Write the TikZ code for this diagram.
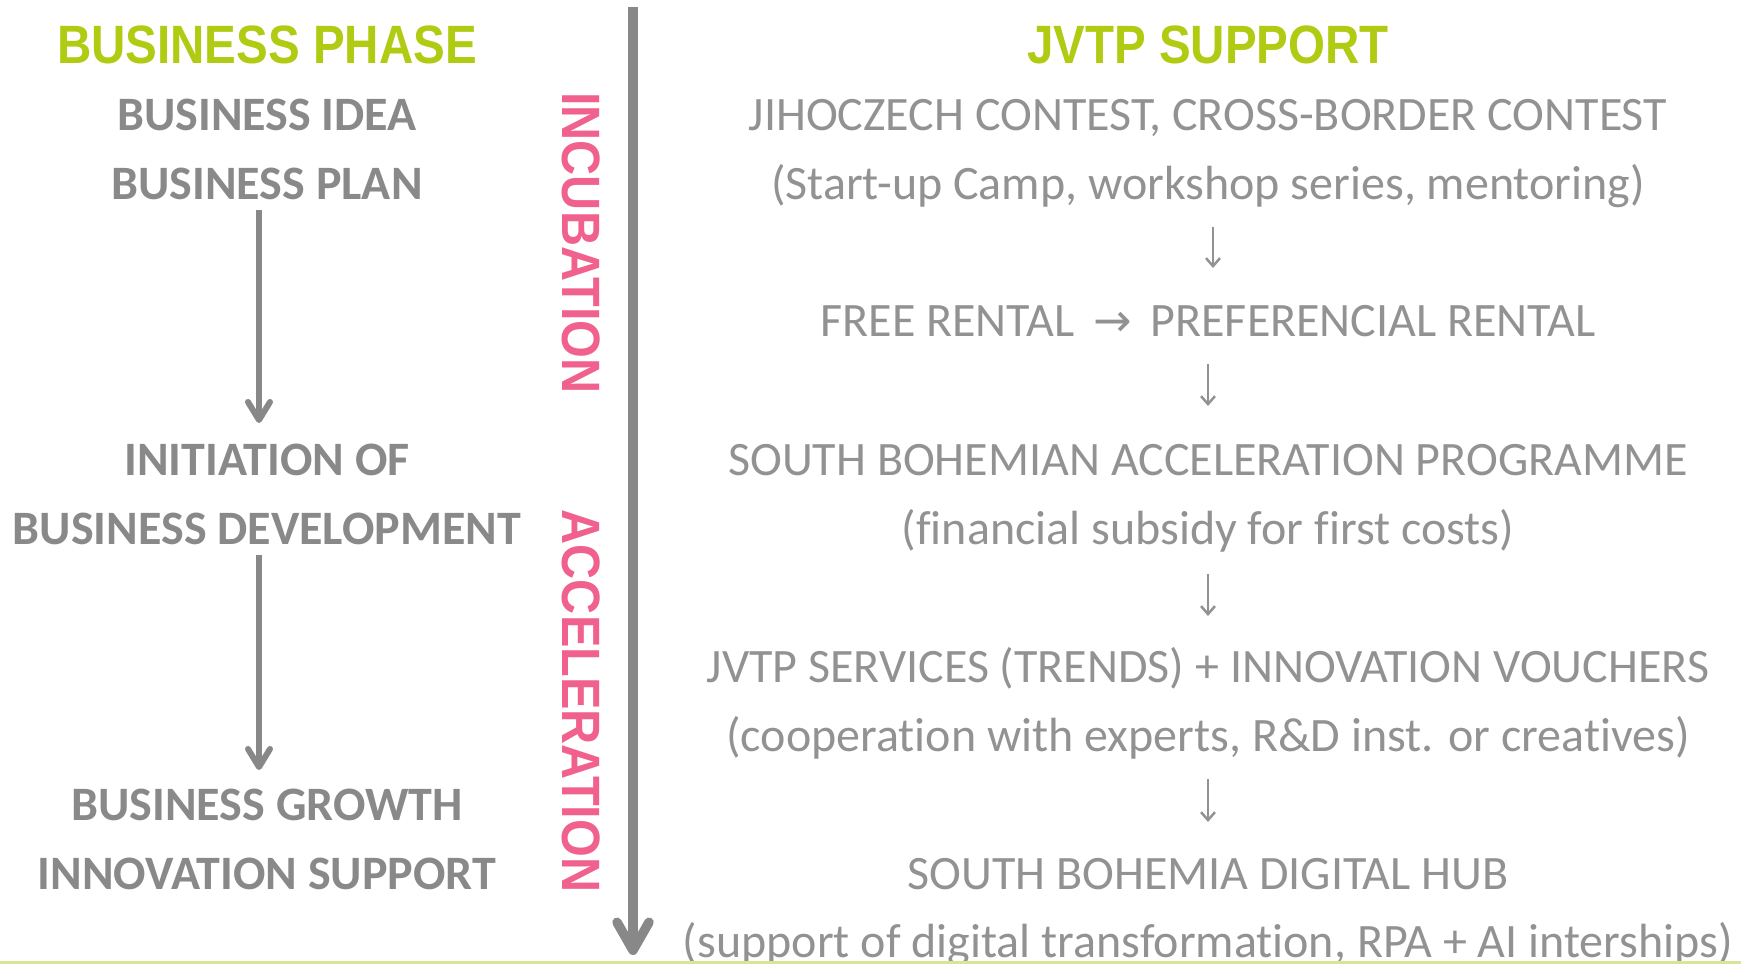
\documentclass[tikz,border=0pt]{standalone}
\usepackage{fontspec}
\setmainfont{Carlito}[Ligatures=NoCommon]
\newfontfamily\headfont[FakeStretch=0.88]{Liberation Sans}
\newfontfamily\stagefont[FakeStretch=0.9]{Liberation Sans}
\newfontfamily\arrowfont{DejaVu Sans}
\usetikzlibrary{arrows.meta}

\definecolor{phasegreen}{RGB}{176,203,18}
\definecolor{stagepink}{RGB}{240,98,141}
\definecolor{phasegray}{RGB}{137,137,137}
\definecolor{supportgray}{RGB}{146,146,146}
\definecolor{timegray}{RGB}{136,136,136}
\definecolor{edgegreen}{RGB}{214,230,150}

\tikzset{
    head/.style={font=\headfont\bfseries\fontsize{54}{54}\selectfont,
        text=phasegreen, anchor=base, inner sep=0pt},
    phase/.style={font=\bfseries\fontsize{48}{48}\selectfont,
        text=phasegray, anchor=base, inner sep=0pt},
    support/.style={font=\fontsize{48}{48}\selectfont,
        text=supportgray, anchor=base, inner sep=0pt},
    stage/.style={font=\stagefont\bfseries\fontsize{54}{54}\selectfont,
        text=stagepink, rotate=-90, inner sep=0pt},
}

\begin{document}
\begin{tikzpicture}[x=1pt, y=1pt]
    \useasboundingbox (0,0) rectangle (1741,-964);

    %Headings
    \node[head] (PhaseHead) at (267,-63) {BUSINESS PHASE};
    \node[head] (SupportHead) at (1208,-63) {JVTP SUPPORT};

    %Business phase
    \node[phase] (BizIdea) at (267,-130) {BUSINESS IDEA};
    \node[phase] (BizPlan) at (267,-199) {BUSINESS PLAN};
    \node[phase] (InitOf) at (267,-475) {INITIATION OF};
    \node[phase] (BizDev) at (267,-544) {BUSINESS DEVELOPMENT};
    \node[phase] (BizGrowth) at (267,-820) {BUSINESS GROWTH};
    \node[phase] (InnoSupport) at (267,-889) {INNOVATION SUPPORT};

    %Stages
    \node[stage] (StageIncub) at (581,-243) {INCUBATION};
    \node[stage] (StageAccel) at (581,-701) {ACCELERATION};

    %JVTP support
    \node[support] (Contest) at (1208,-130) {JIHOCZECH CONTEST, CROSS-BORDER CONTEST};
    \node[support] (ContestNote) at (1208,-199) {(Start-up Camp, workshop series, mentoring)};
    \node[support] (Rental) at (1208,-336) {FREE RENTAL\, {\arrowfont\fontsize{46}{46}\selectfont →}\, PREFERENCIAL RENTAL};
    \node[support] (AccelProg) at (1208,-475) {SOUTH BOHEMIAN ACCELERATION PROGRAMME};
    \node[support] (AccelNote) at (1208,-544) {(financial subsidy for first costs)};
    \node[support] (Services) at (1208,-682) {JVTP SERVICES (TRENDS) + INNOVATION VOUCHERS};
    \node[support] (ServicesNote) at (1208,-751) {(cooperation with experts, R\&D inst. or creatives)};
    \node[support] (DigiHub) at (1208,-889) {SOUTH BOHEMIA DIGITAL HUB};
    \node[support] (DigiHubNote) at (1208,-957) {(support of digital transformation, RPA + AI interships)};

    \coordinate (TimeBegin) at (633,-7);
    \coordinate (TimeEnd) at (633,-955);

    \coordinate (PhaseOneBegin) at (259,-210);
    \coordinate (PhaseOneEnd) at (259,-423);
    \coordinate (PhaseTwoBegin) at (259,-555);
    \coordinate (PhaseTwoEnd) at (259,-770);

    \coordinate (StepOneBegin) at (1213,-227);
    \coordinate (StepOneEnd) at (1213,-268);
    \coordinate (StepTwoBegin) at (1208,-364);
    \coordinate (StepTwoEnd) at (1208,-406);
    \coordinate (StepThreeBegin) at (1208,-574);
    \coordinate (StepThreeEnd) at (1208,-616);
    \coordinate (StepFourBegin) at (1208,-779);
    \coordinate (StepFourEnd) at (1208,-822);

    %Lines
    \fill[edgegreen] (0,-961) rectangle (1741,-964);

    \draw[-{Straight Barb[round, length=28pt, width=32pt]}, line width=9.5pt, timegray]
        (TimeBegin) -- (TimeEnd);

    \draw[-{Straight Barb[round, length=18pt, width=22pt]}, line width=6pt, timegray]
        (PhaseOneBegin) -- (PhaseOneEnd);
    \draw[-{Straight Barb[round, length=18pt, width=22pt]}, line width=6pt, timegray]
        (PhaseTwoBegin) -- (PhaseTwoEnd);

    \draw[-{Straight Barb[length=8pt, width=14pt]}, line width=2.5pt, supportgray]
        (StepOneBegin) -- (StepOneEnd);
    \draw[-{Straight Barb[length=8pt, width=14pt]}, line width=2.5pt, supportgray]
        (StepTwoBegin) -- (StepTwoEnd);
    \draw[-{Straight Barb[length=8pt, width=14pt]}, line width=2.5pt, supportgray]
        (StepThreeBegin) -- (StepThreeEnd);
    \draw[-{Straight Barb[length=8pt, width=14pt]}, line width=2.5pt, supportgray]
        (StepFourBegin) -- (StepFourEnd);
\end{tikzpicture}
\end{document}
